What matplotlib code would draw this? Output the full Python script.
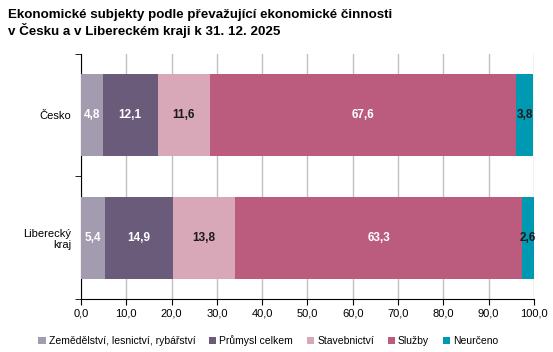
import matplotlib
matplotlib.use("Agg")
import matplotlib.pyplot as plt
import numpy as np

plt.rcParams["font.family"] = ["Liberation Sans", "DejaVu Sans"]

regions = ["Česko", "Liberecký\nkraj"]
sectors = ["Zemědělství, lesnictví, rybářství", "Průmysl celkem",
           "Stavebnictví", "Služby", "Neurčeno"]
values = {
    "Zemědělství, lesnictví, rybářství": [4.8, 5.4],
    "Průmysl celkem": [12.1, 14.9],
    "Stavebnictví": [11.6, 13.8],
    "Služby": [67.6, 63.3],
    "Neurčeno": [3.8, 2.6],
}
colors = ["#a39bb0", "#6a5b7b", "#d8a8b8", "#bb5c7e", "#0099b2"]
label_colors = ["white", "white", "#1a1a1a", "white", "#1a1a1a"]

fig = plt.figure(figsize=(5.53, 3.52), dpi=100)
ax = fig.add_axes([0.1465, 0.1506, 0.819, 0.696])

ypos = np.array([1, 0])
left = np.zeros(len(regions))
for name, col, lc in zip(sectors, colors, label_colors):
    vals = np.array(values[name])
    bars = ax.barh(ypos, vals, left=left, height=0.67, color=col,
                   label=name, zorder=3)
    for b, v in zip(bars, vals):
        ax.text(b.get_x() + b.get_width() / 2, b.get_y() + b.get_height() / 2,
                f"{v:.1f}".replace(".", ","), ha="center", va="center",
                color=lc, fontsize=8.5, fontweight="bold", zorder=4)
    left += vals

ax.set_xlim(0, 100)
ax.set_ylim(-0.5, 1.5)
ax.set_xticks(np.arange(0, 101, 10))
ax.set_xticklabels([f"{t:.1f}".replace(".", ",") for t in np.arange(0, 101, 10)],
                   fontsize=8)
ax.set_yticks(ypos)
ax.set_yticklabels(regions, fontsize=8)
ax.tick_params(axis="y", length=0, pad=7)
ax.set_yticks([-0.5, 0.5, 1.5], minor=True)
ax.tick_params(axis="y", which="minor", length=4, direction="out")
ax.tick_params(axis="x", length=4, direction="out", pad=3)
ax.grid(axis="x", color="#c0c0c0", linewidth=1, zorder=0)
for s in ["top", "right"]:
    ax.spines[s].set_visible(False)
for s in ["left", "bottom"]:
    ax.spines[s].set_color("black")

fig.text(0.014, 0.975, "Ekonomické subjekty podle převažující ekonomické činnosti\n"
         "v Česku a v Libereckém kraji k 31. 12. 2025",
         ha="left", va="top", fontsize=9.6, fontweight="bold", linespacing=1.15)

fig.legend(loc="lower center", bbox_to_anchor=(0.485, -0.01), ncol=5, frameon=False,
           fontsize=7.5, handlelength=0.7, handleheight=0.7, handletextpad=0.3,
           columnspacing=1.3)

fig.savefig("out.png", dpi=100)
